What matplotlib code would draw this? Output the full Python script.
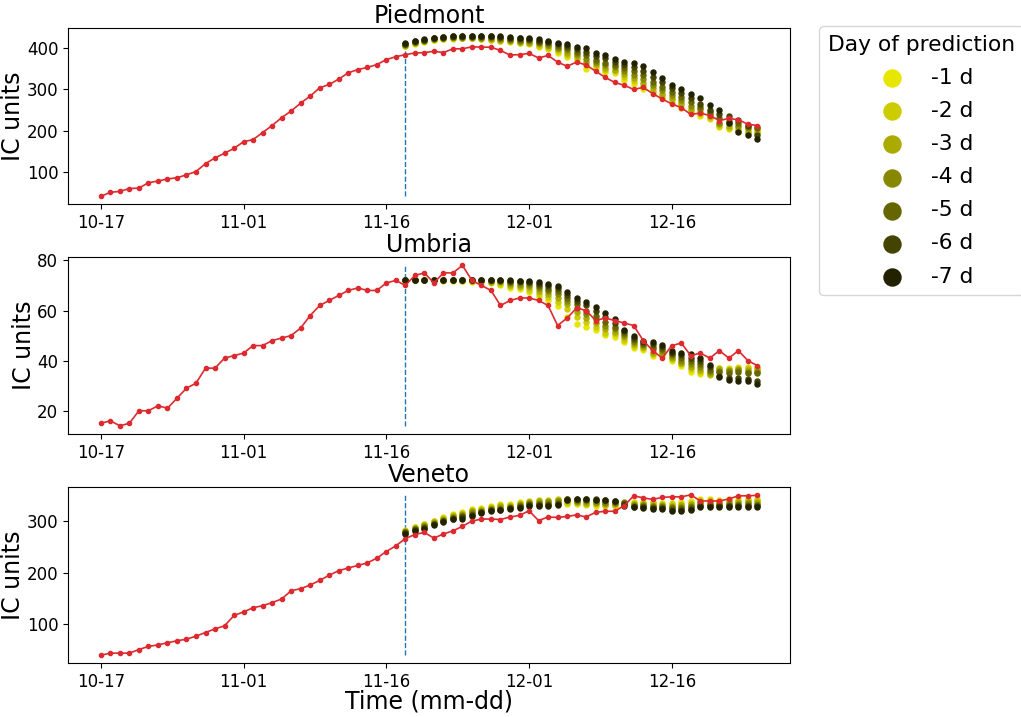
import pandas as pd
import matplotlib
matplotlib.use('Agg')
import matplotlib.pyplot as plt
import matplotlib.dates as mdates

# daily dates, predictions start on 11-18
dates = pd.date_range('2020-10-17', '2020-12-25')
pred_start = 32
tick_dates = pd.to_datetime(['2020-10-17', '2020-11-01', '2020-11-16', '2020-12-01', '2020-12-16'])

lead_labels = ['-1 d', '-2 d', '-3 d', '-4 d', '-5 d', '-6 d', '-7 d']
lead_colors = ['#e6e600', '#cccc00', '#aaaa00', '#888800', '#666600', '#444400', '#222200']

piedmont_obs = [42, 52, 54, 61, 62, 75, 79, 84, 87, 94,
                102, 121, 135, 146, 158, 174, 179, 196, 213, 232,
                248, 267, 284, 304, 312, 325, 340, 348, 353, 360,
                372, 379, 384, 388, 389, 392, 389, 398, 398, 403,
                402, 402, 394, 383, 384, 387, 376, 382, 366, 356,
                366, 359, 344, 329, 317, 310, 300, 305, 290, 277,
                265, 256, 240, 243, 237, 225, 230, 227, 216, 213]

umbria_obs = [15, 16, 14, 15, 20, 20, 22, 21, 25, 29,
              31, 37, 37, 41, 42, 43, 46, 46, 48, 49,
              50, 53, 58, 62, 64, 66, 68, 69, 68, 68,
              71, 72, 70, 74, 75, 71, 75, 75, 78, 72,
              70, 68, 62, 64, 65, 65, 64, 62, 54, 57,
              61, 60, 56, 57, 56, 55, 54, 48, 44, 41,
              46, 47, 42, 43, 41, 44, 41, 44, 40, 38]

veneto_obs = [40, 44, 44, 44, 51, 57, 60, 64, 68, 71,
              77, 84, 91, 97, 117, 124, 132, 136, 142, 149,
              165, 169, 176, 185, 195, 204, 209, 214, 219, 228,
              241, 252, 266, 274, 278, 267, 275, 281, 290, 300,
              304, 304, 303, 308, 311, 320, 301, 308, 307, 309,
              312, 308, 317, 319, 319, 330, 349, 345, 342, 346,
              347, 347, 351, 339, 339, 339, 343, 349, 349, 350]

# predictions, one row per lead time (-1 d ... -7 d)
piedmont_pred = [
    [405, 410, 415, 419, 421, 422, 423, 423, 421, 419, 417, 414, 411, 409, 403, 397, 389, 379, 370, 350,
     352, 342, 340, 322, 312, 300, 292, 280, 267, 255, 242, 236, 228, 210, 205, 209, 205, 205],
    [406, 411, 416, 420, 422, 423, 424, 424, 422, 420, 418, 416, 413, 411, 406, 400, 393, 384, 375, 358,
     356, 347, 344, 330, 320, 308, 297, 285, 274, 262, 248, 240, 232, 213, 208, 205, 200, 200],
    [407, 412, 417, 421, 423, 425, 425, 425, 424, 422, 420, 418, 415, 413, 409, 404, 397, 389, 380, 366,
     361, 352, 348, 338, 328, 316, 303, 290, 280, 268, 254, 246, 236, 216, 212, 200, 195, 195],
    [408, 414, 418, 422, 424, 426, 426, 426, 425, 424, 422, 420, 418, 416, 412, 407, 401, 394, 386, 374,
     366, 358, 353, 345, 336, 325, 310, 298, 286, 274, 260, 252, 240, 220, 218, 212, 207, 210],
    [409, 415, 419, 423, 425, 427, 427, 427, 427, 426, 424, 422, 420, 419, 415, 411, 405, 399, 391, 382,
     372, 365, 358, 352, 344, 334, 318, 305, 295, 282, 270, 258, 246, 231, 225, 220, 214, 208],
    [410, 416, 420, 424, 426, 428, 428, 428, 428, 428, 426, 425, 423, 422, 418, 414, 409, 404, 397, 390,
     380, 375, 366, 360, 353, 345, 330, 318, 304, 292, 280, 266, 251, 240, 237, 227, 212, 190],
    [411, 417, 421, 425, 427, 429, 429, 429, 429, 429, 428, 427, 425, 424, 421, 417, 413, 410, 403, 399,
     387, 383, 373, 367, 363, 356, 342, 328, 310, 300, 288, 279, 262, 251, 220, 197, 191, 180],
]

umbria_pred = [
    [72.1, 72.0, 72.1, 72.0, 71.9, 71.8, 71.7, 71.5, 71.3, 70.8, 70.2, 69.0, 68.5, 67.5, 65.5, 64.3, 61.8, 57.5, 54.6, 53.6,
     52.2, 50.2, 49.5, 47.3, 45.1, 44.4, 41.8, 41.8, 39.8, 37.9, 35.3, 34.6, 35.0, 37.2, 37.2, 37.3, 37.3, 37.4],
    [72.2, 72.1, 72.0, 72.2, 72.1, 72.0, 71.9, 71.7, 71.6, 71.2, 70.7, 69.6, 69.2, 68.3, 66.6, 65.3, 63.5, 60.5, 57.5, 55.5,
     53.5, 51.0, 50.5, 48.3, 46.0, 45.0, 42.5, 42.5, 40.5, 38.5, 36.5, 35.3, 34.2, 36.9, 36.8, 37.0, 37.0, 36.9],
    [72.0, 72.2, 72.2, 72.1, 72.2, 72.1, 72.0, 71.9, 71.8, 71.5, 71.2, 70.3, 69.9, 69.2, 67.7, 66.5, 65.0, 62.5, 59.5, 57.0,
     55.0, 52.5, 51.5, 49.3, 46.8, 45.5, 43.1, 43.2, 41.2, 39.2, 37.5, 36.3, 34.8, 36.5, 36.3, 36.5, 36.4, 36.2],
    [72.1, 72.1, 72.3, 72.2, 72.2, 72.2, 72.1, 72.0, 72.0, 71.8, 71.6, 70.9, 70.6, 70.0, 68.8, 67.6, 66.5, 63.8, 61.0, 58.5,
     56.5, 54.0, 52.5, 50.3, 47.6, 46.1, 44.5, 44.0, 41.8, 39.8, 38.5, 37.3, 35.6, 35.9, 35.9, 36.2, 35.6, 35.3],
    [72.3, 72.0, 72.1, 72.3, 72.3, 72.2, 72.2, 72.1, 72.1, 72.0, 71.9, 71.5, 71.2, 70.8, 69.8, 68.7, 67.8, 65.0, 62.5, 60.0,
     58.0, 55.5, 53.5, 51.0, 48.4, 46.7, 45.5, 44.8, 42.5, 41.0, 39.8, 38.5, 36.4, 35.3, 35.0, 35.4, 35.2, 34.9],
    [72.2, 72.2, 72.2, 72.1, 72.2, 72.3, 72.2, 72.2, 72.2, 72.1, 72.1, 71.9, 71.6, 71.4, 70.6, 69.8, 68.9, 66.3, 63.8, 62.0,
     59.8, 57.5, 55.0, 51.9, 49.2, 47.3, 46.5, 45.5, 43.2, 42.2, 41.2, 39.8, 37.5, 34.0, 33.2, 33.0, 32.6, 32.0],
    [72.1, 72.3, 72.2, 72.2, 72.1, 72.2, 72.3, 72.3, 72.3, 72.2, 72.2, 72.1, 71.8, 71.8, 71.2, 70.6, 69.6, 67.3, 65.0, 63.5,
     61.2, 59.1, 56.5, 52.3, 49.7, 47.7, 47.3, 46.1, 43.8, 43.1, 42.5, 41.2, 38.3, 33.3, 32.4, 32.0, 31.7, 30.8],
]

veneto_pred = [
    [282, 289, 295, 301, 307, 313, 317, 323, 326, 330, 333, 334, 337, 336, 334, 333, 334, 333, 333, 332,
     330, 330, 329, 331, 337, 337, 337, 336, 336, 337, 339, 342, 342, 341, 342, 342, 342, 342],
    [281, 288, 294, 300, 306, 312, 315, 321, 324, 328, 331, 332, 335, 339, 340, 341, 342, 335, 335, 334,
     333, 332, 331, 333, 335, 335, 335, 334, 333, 334, 336, 340, 340, 339, 340, 339, 340, 340],
    [280, 287, 292, 298, 304, 310, 313, 319, 322, 326, 329, 330, 333, 337, 338, 339, 340, 338, 337, 336,
     335, 334, 333, 335, 333, 333, 332, 331, 330, 331, 333, 337, 337, 336, 337, 337, 337, 337],
    [279, 285, 290, 297, 303, 308, 311, 317, 320, 324, 326, 328, 331, 335, 336, 337, 338, 340, 339, 339,
     337, 336, 335, 337, 331, 331, 330, 329, 327, 328, 330, 335, 334, 334, 334, 334, 335, 334],
    [278, 284, 288, 295, 301, 306, 309, 314, 318, 322, 324, 326, 329, 333, 333, 334, 336, 342, 341, 341,
     340, 338, 337, 336, 330, 329, 328, 327, 325, 325, 327, 332, 331, 331, 332, 331, 332, 332],
    [276, 282, 286, 294, 300, 305, 307, 312, 317, 321, 322, 325, 327, 331, 331, 332, 333, 343, 343, 343,
     342, 341, 339, 334, 328, 328, 326, 325, 322, 322, 324, 329, 329, 329, 329, 329, 329, 329],
    [275, 281, 285, 293, 299, 304, 305, 310, 316, 320, 321, 324, 326, 329, 330, 330, 332, 341, 342, 342,
     341, 340, 338, 329, 327, 326, 324, 323, 320, 320, 321, 327, 327, 327, 327, 327, 327, 327],
]

regions = [('Piedmont', piedmont_obs, piedmont_pred),
           ('Umbria', umbria_obs, umbria_pred),
           ('Veneto', veneto_obs, veneto_pred)]

fig, axes = plt.subplots(3, 1, figsize=(10.21, 7.17), dpi=100)
fig.subplots_adjust(left=0.0666, right=0.774, top=0.961, bottom=0.075, hspace=0.30)

for ax, (name, obs, pred) in zip(axes, regions):
    for k in range(len(pred)):
        ax.scatter(dates[pred_start:], pred[k], s=13, color=lead_colors[k],
                   label=lead_labels[k], zorder=2)
    ax.plot(dates, obs, color='#dd2a2f', marker='o', markersize=3, lw=1.2, zorder=3)
    ax.vlines(dates[pred_start], min(obs), max(obs), colors='tab:blue',
              linestyles='--', lw=1, zorder=1)
    ax.set_title(name, fontsize=17, pad=3)
    ax.set_ylabel('IC units', fontsize=17, labelpad=1)
    ax.set_xticks(tick_dates)
    ax.xaxis.set_major_formatter(mdates.DateFormatter('%m-%d'))
    ax.tick_params(labelsize=12)

axes[-1].set_xlabel('Time (mm-dd)', fontsize=17, labelpad=-1)
axes[0].legend(title='Day of prediction', loc='upper left', bbox_to_anchor=(1.04, 1.01),
               borderaxespad=0, fontsize=15.7, title_fontsize=15.7, markerscale=3.4,
               labelspacing=0.6)

fig.savefig('out.png', dpi=100)
